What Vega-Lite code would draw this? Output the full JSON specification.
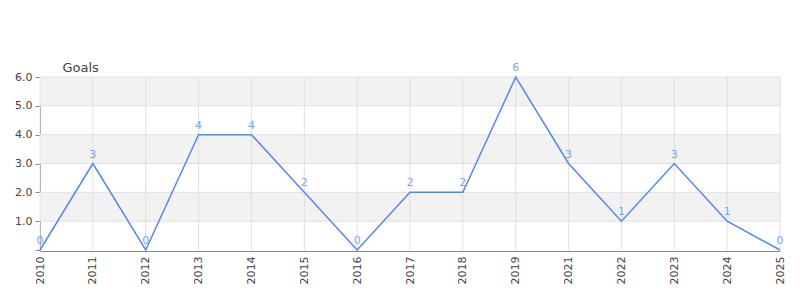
{
  "$schema": "https://vega.github.io/schema/vega-lite/v6.json",
  "width": 740,
  "height": 173,
  "autosize": {"type": "none"},
  "padding": {"left": 40, "top": 77, "right": 20, "bottom": 50},
  "background": "white",
  "config": {
    "view": {"stroke": null},
    "font": "DejaVu Sans",
    "axisY": {
      "values": [0, 0.5, 1, 1.5, 2, 2.5, 3, 3.5, 4, 4.5, 5, 5.5, 6],
      "labelExpr": "datum.value % 1 === 0 && datum.value > 0 ? format(datum.value, '.1f') : ''",
      "tickSize": {"condition": {"test": "datum.value % 1 !== 0", "value": 3}, "value": 5},
      "labelOverlap": false,
      "labelFlush": false,
      "grid": false,
      "domainColor": "#888888",
      "tickColor": "#888888",
      "labelColor": "#444444",
      "labelFontSize": 11,
      "labelPadding": 3,
      "titleAngle": 0,
      "titleAlign": "left",
      "titleBaseline": "alphabetic",
      "titleX": 22,
      "titleY": -6,
      "titleFontSize": 13,
      "titleFontWeight": "normal",
      "titleColor": "#444444",
      "zindex": 1
    },
    "axisX": {
      "grid": false,
      "domainColor": "#888888",
      "labelColor": "#444444",
      "labelFontSize": 11,
      "zindex": 1
    }
  },
  "datasets": {
    "goals": [
      {"year": "2010", "goals": 0},
      {"year": "2011", "goals": 3},
      {"year": "2012", "goals": 0},
      {"year": "2013", "goals": 4},
      {"year": "2014", "goals": 4},
      {"year": "2015", "goals": 2},
      {"year": "2016", "goals": 0},
      {"year": "2017", "goals": 2},
      {"year": "2018", "goals": 2},
      {"year": "2019", "goals": 6},
      {"year": "2021", "goals": 3},
      {"year": "2022", "goals": 1},
      {"year": "2023", "goals": 3},
      {"year": "2024", "goals": 1},
      {"year": "2025", "goals": 0}
    ],
    "bands": [
      {"lo": 1, "hi": 2},
      {"lo": 3, "hi": 4},
      {"lo": 5, "hi": 6}
    ],
    "hgrid": [
      {"v": 1}, {"v": 2}, {"v": 3}, {"v": 4}, {"v": 5}, {"v": 6}
    ]
  },
  "layer": [
    {
      "data": {"name": "bands"},
      "mark": {"type": "rect", "color": "#f2f2f2"},
      "encoding": {
        "y": {"field": "lo", "type": "quantitative", "scale": {"domain": [0, 6], "nice": false}, "title": "Goals"},
        "y2": {"field": "hi"}
      }
    },
    {
      "data": {"name": "goals"},
      "mark": {"type": "rule", "color": "#e0e0e0", "strokeWidth": 1},
      "encoding": {
        "x": {"field": "year", "type": "ordinal"}
      }
    },
    {
      "data": {"name": "hgrid"},
      "mark": {"type": "rule", "color": "#e0e0e0", "strokeWidth": 1},
      "encoding": {
        "y": {"field": "v", "type": "quantitative", "title": "Goals"}
      }
    },
    {
      "mark": {"type": "rule", "color": "#e00000", "strokeWidth": 1},
      "encoding": {"y": {"datum": 0, "type": "quantitative", "title": "Goals"}}
    },
    {
      "data": {"name": "goals"},
      "mark": {"type": "line", "color": "#5288ea", "strokeWidth": 1.5},
      "encoding": {
        "x": {"field": "year", "type": "ordinal", "scale": {"type": "point", "padding": 0},
          "axis": {
            "title": null,
            "labelAngle": -90,
            "labelAlign": "right",
            "labelBaseline": "middle",
            "labelPadding": 5,
            "offset": 1,
            "ticks": false
          }
        },
        "y": {"field": "goals", "type": "quantitative", "title": "Goals"}
      }
    },
    {
      "data": {"name": "goals"},
      "mark": {"type": "text", "color": "#7aa2ee", "fontSize": 11, "dy": -9},
      "encoding": {
        "x": {"field": "year", "type": "ordinal"},
        "y": {"field": "goals", "type": "quantitative", "title": "Goals"},
        "text": {"field": "goals", "type": "quantitative"}
      }
    }
  ]
}
